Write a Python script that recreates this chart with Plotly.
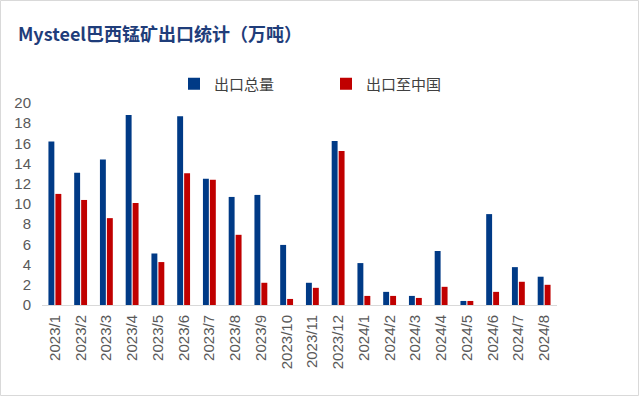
import plotly.graph_objects as go

months = ["2023/1", "2023/2", "2023/3", "2023/4", "2023/5", "2023/6", "2023/7", "2023/8",
          "2023/9", "2023/10", "2023/11", "2023/12", "2024/1", "2024/2", "2024/3", "2024/4",
          "2024/5", "2024/6", "2024/7", "2024/8"]
total_export = [16.2, 13.1, 14.4, 18.8, 5.1, 18.7, 12.5, 10.7, 10.9, 5.95, 2.2, 16.25,
                4.15, 1.3, 0.9, 5.35, 0.4, 9.0, 3.75, 2.8]
export_china = [11.0, 10.4, 8.6, 10.1, 4.25, 13.05, 12.4, 6.95, 2.2, 0.6, 1.7, 15.25,
                0.9, 0.9, 0.7, 1.8, 0.4, 1.3, 2.3, 2.0]
y_ticks = [0, 2, 4, 6, 8, 10, 12, 14, 16, 18, 20]

W, H = 640, 396
ML, MR, MT, MB = 42, 83, 103, 91

fig = go.Figure()
fig.add_trace(go.Bar(x=months, y=total_export, name="出口总量", marker_color="#003A86",
                     marker_line_width=0))
fig.add_trace(go.Bar(x=months, y=export_china, name="出口至中国", marker_color="#C00000",
                     marker_line_width=0))

pw = W - ML - MR
ph = H - MT - MB
fig.update_layout(
    width=W, height=H,
    margin=dict(l=ML, r=MR, t=MT, b=MB, pad=0),
    paper_bgcolor="white", plot_bgcolor="white",
    barmode="group", bargap=0.46, bargroupgap=0.15,
    title=dict(text="<b>Mysteel巴西锰矿出口统计（万吨）</b>",
               font=dict(family="Noto Sans CJK SC", size=18, color="#1F3D7A"),
               x=18 / W, xanchor="left", xref="container",
               y=1 - 35 / H, yanchor="middle", yref="container"),
    legend=dict(orientation="h", x=(174 - ML) / pw, xanchor="left",
                y=1 + (MT - 84) / ph, yanchor="middle",
                font=dict(family="Noto Sans CJK SC", size=15, color="#404040"),
                entrywidth=107, entrywidthmode="pixels", itemwidth=30,
                bgcolor="rgba(0,0,0,0)"),
    xaxis=dict(type="category", tickangle=-90, showgrid=False, ticks="",
               showline=True, linecolor="#D9D9D9", linewidth=1,
               ticklabelstandoff=3,
               tickfont=dict(family="Liberation Sans", size=15, color="#595959")),
    yaxis=dict(range=[0, 20], tickvals=y_ticks, showgrid=False, zeroline=False,
               showline=False, ticks="", ticklabelstandoff=10,
               tickfont=dict(family="Liberation Sans", size=15, color="#595959")),
    shapes=[dict(type="rect", xref="paper", yref="paper",
                 x0=-ML / pw + 0.5 / pw, x1=1 + (MR - 1.5) / pw,
                 y0=-MB / ph + 0.5 / ph, y1=1 + (MT - 0.5) / ph,
                 line=dict(color="#D9D9D9", width=1), fillcolor="rgba(0,0,0,0)",
                 layer="below")],
)

fig.write_html("out.html", config={"displayModeBar": False},
               post_script="document.body.style.margin='0';")
